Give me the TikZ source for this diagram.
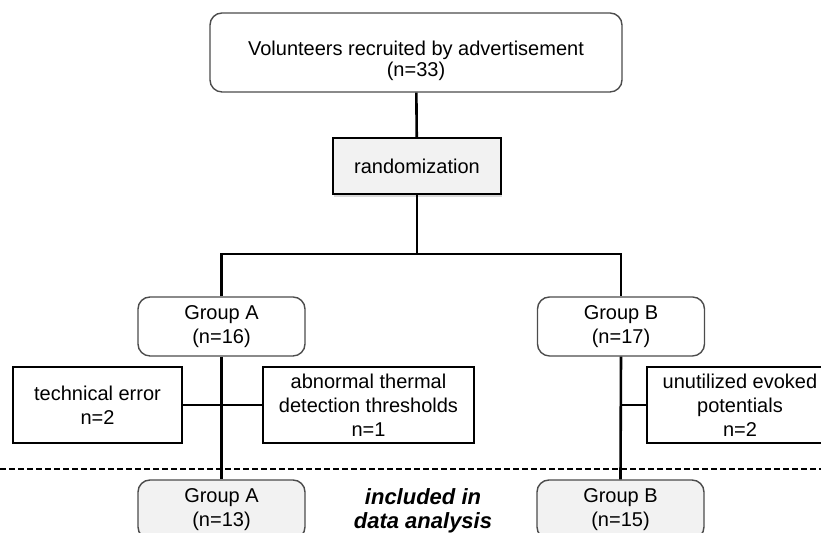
\documentclass[tikz,border=0pt]{standalone}
\usepackage{fontspec}
\setmainfont{Liberation Sans}
\usepackage{tikz}
\usetikzlibrary{shadows}

\begin{document}
\begin{tikzpicture}[x=0.5pt,y=0.5pt,
	roundbox/.style={draw=black!70, line width=0.7pt, rounded corners=6pt, align=center, inner sep=0pt, font=\fontsize{10}{12}\selectfont},
	plainbox/.style={draw=black, line width=0.8pt, align=center, inner sep=0pt, minimum height=38pt, font=\fontsize{10}{12}\selectfont},
	grpbox/.style={roundbox, minimum width=83.5pt, minimum height=29.5pt},
	link/.style={line width=1.3pt}]
		\clip (0,0) rectangle (821,533);
		%Reclutamento
		\node [roundbox, minimum width=206pt, minimum height=39.5pt, font=\fontsize{10}{10.5}\selectfont] (vol) at (416,480.5) {\rule{0pt}{16pt}Volunteers recruited by advertisement\\(n=33)};
		\node [draw=black, line width=1pt, fill=black!5, minimum width=84pt, minimum height=28pt, inner sep=0pt, font=\fontsize{10}{12}\selectfont, drop shadow={shadow xshift=0.5pt, shadow yshift=-1.5pt, opacity=0.3}] (rand) at (417,367) {randomization};
		%Gruppi
		\node [grpbox] (grpA) at (221.5,206.5) {Group A\\(n=16)};
		\node [grpbox] (grpB) at (621,206.5) {Group B\\(n=17)};
		%Esclusi
		\node [plainbox, minimum width=84.5pt] (tech) at (97.5,128) {technical error\\n=2};
		\node [plainbox, minimum width=105.5pt] (abn) at (368.5,128) {abnormal thermal\\detection thresholds\\n=1};
		\node [plainbox, minimum width=93pt] (unut) at (740,128) {unutilized evoked\\potentials\\n=2};
		%Analisi
		\draw [line width=0.8pt, dash pattern=on 3pt off 1.5pt] (0,64) -- (821,64);
		\node [grpbox, fill=black!5] (grpA2) at (221.5,23.5) {Group A\\(n=13)};
		\node [grpbox, fill=black!5] (grpB2) at (620.5,23.5) {Group B\\(n=15)};
		\node [align=center, font=\fontsize{11}{12}\selectfont\bfseries\itshape] (incl) at (423,22) {included in\\data analysis};
		%Collegamenti
		\coordinate (split) at (417,279);
		\draw [link] (vol) -- (rand);
		\draw [link] (rand) -- (split);
		\draw [link] (grpA.north) |- (split) -| (grpB.north);
		\draw [link] (grpA) -- (grpA2);
		\draw [link] (grpB.south) -- (grpB2.north);
		\draw [link] (tech) -- (abn);
		\draw [link] (unut.west) -- (unut.west -| grpB);
	\end{tikzpicture}
\end{document}
